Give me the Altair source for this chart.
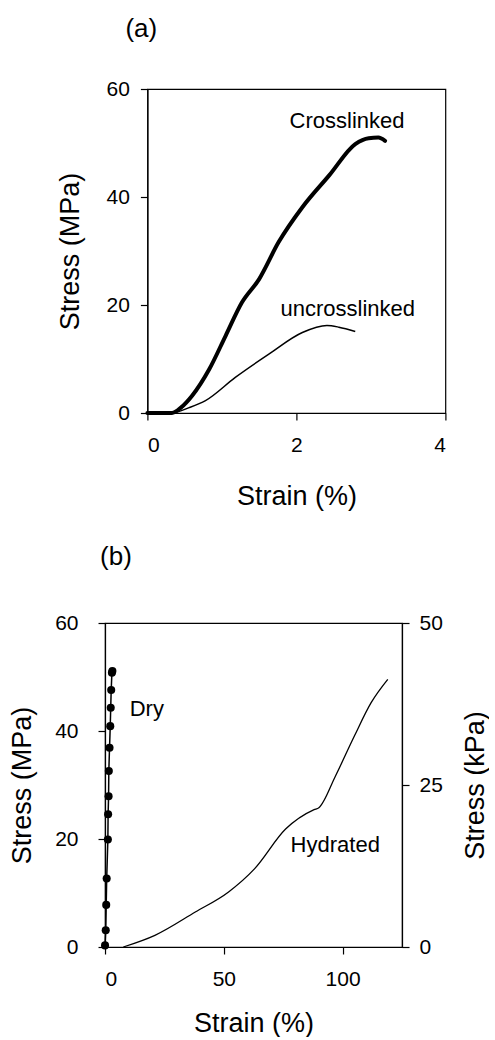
import altair as alt
import pandas as pd

# ---------------- data ----------------
# Panel (a)
cross_strain = [0, 0.33, 0.45, 0.6, 0.83, 1.05, 1.27, 1.5, 1.76, 2.08, 2.44, 2.79, 2.97, 3.1, 3.19]
cross_stress = [0, 0, 1.0, 3.2, 8.1, 14.3, 20.5, 24.8, 31.6, 38.1, 44.0, 49.8, 50.9, 51.0, 50.4]
uncross_strain = [0, 0.33, 0.56, 0.78, 1.18, 1.63, 2.08, 2.41, 2.57, 2.79]
uncross_stress = [0, 0, 1.0, 2.3, 6.6, 10.9, 14.9, 16.2, 15.9, 15.1]
a_labels = ["Crosslinked", "uncrosslinked"]
a_label_x = [2.68, 2.69]
a_label_y = [54.1, 19.3]

# Panel (b)
dry_strain = [0.0, 0.3, 0.5, 0.7, 1.2, 1.3, 1.5, 1.6, 1.9, 2.2, 2.4, 2.6, 2.9, 3.1]
dry_stress = [0.3, 3.1, 7.8, 12.7, 19.9, 24.6, 27.9, 32.6, 36.9, 40.9, 44.3, 47.6, 50.8, 51.1]
hyd_strain = [7.7, 21, 38, 52, 63, 76, 88, 90, 97, 105, 112, 119]
hyd_stress = [0, 1.8, 5.4, 8.5, 12.1, 18.2, 21.2, 21.5, 26.4, 32.6, 37.7, 41.3]  # kPa
b_labels = ["Dry", "Hydrated"]
b_label_x = [17.6, 96.9]
b_label_y = [44.0, 18.8]  # MPa axis

FONT = "Liberation Sans"


def ax(**kw):
    base = dict(grid=False, domainColor="black", tickColor="black", labelColor="black",
                titleColor="black", labelFont=FONT, titleFont=FONT, labelFontSize=21,
                titleFontSize=27, titleFontWeight="normal", tickSize=7, domainWidth=1.2,
                tickWidth=1.2, format="d")
    base.update(kw)
    return alt.Axis(**base)


# ---------------- panel (a) ----------------
dfc = pd.DataFrame({"strain": cross_strain, "stress": cross_stress})
dfu = pd.DataFrame({"strain": uncross_strain, "stress": uncross_stress})
dfa_t = pd.DataFrame({"label": a_labels, "strain": a_label_x, "stress": a_label_y})

xa = alt.X("strain:Q", scale=alt.Scale(domain=[0, 4], nice=False),
           axis=ax(values=[0, 2, 4], title="Strain (%)", labelPadding=14, titlePadding=28))
ya = alt.Y("stress:Q", scale=alt.Scale(domain=[0, 60], nice=False),
           axis=ax(values=[0, 20, 40, 60], title="Stress (MPa)", labelPadding=11, titlePadding=22))

a_cross = alt.Chart(dfc).mark_line(color="black", strokeWidth=4, strokeCap="round",
                                   interpolate="monotone").encode(x=xa, y=ya)
a_unc = alt.Chart(dfu).mark_line(color="black", strokeWidth=1.5,
                                 interpolate="monotone").encode(x=xa, y=ya)
a_txt = alt.Chart(dfa_t).mark_text(font=FONT, fontSize=22, color="black").encode(
    x="strain:Q", y="stress:Q", text="label:N")

panel_a = alt.layer(a_cross, a_unc, a_txt).properties(
    width=298, height=324,
    title=alt.TitleParams("(a)", anchor="start", frame="group", dx=-22, offset=36,
                          fontSize=26, font=FONT, fontWeight="normal", color="black"))

# ---------------- panel (b) ----------------
dfd = pd.DataFrame({"strain": dry_strain, "stress": dry_stress})
dfh = pd.DataFrame({"strain": hyd_strain, "kpa": hyd_stress})
dfb_t = pd.DataFrame({"label": b_labels, "strain": b_label_x, "stress": b_label_y})

xb = alt.X("strain:Q", scale=alt.Scale(domain=[0, 125], nice=False),
           axis=ax(values=[0, 50, 100], title="Strain (%)", labelPadding=14, titlePadding=21))
yb = alt.Y("stress:Q", scale=alt.Scale(domain=[0, 60], nice=False),
           axis=ax(values=[0, 20, 40, 60], title="Stress (MPa)", labelPadding=20, titlePadding=18,
                   orient="left"))
yr = alt.Y("kpa:Q", scale=alt.Scale(domain=[0, 50], nice=False),
           axis=ax(values=[0, 25, 50], title="Stress (kPa)", labelPadding=10, titlePadding=20,
                   orient="right", titleAngle=270, titleBaseline="top"))

b_dline = alt.Chart(dfd).mark_line(color="black", strokeWidth=1.5).encode(x=xb, y=yb)
b_dpts = alt.Chart(dfd).mark_point(filled=True, color="black", size=65, opacity=1).encode(x=xb, y=yb)
b_txt = alt.Chart(dfb_t).mark_text(font=FONT, fontSize=22, color="black").encode(
    x="strain:Q", y="stress:Q", text="label:N")
left = alt.layer(b_dline, b_dpts, b_txt)

b_hyd = alt.Chart(dfh).mark_line(color="black", strokeWidth=1.3,
                                 interpolate="monotone").encode(x=xb, y=yr)

panel_b = alt.layer(left, b_hyd).resolve_scale(y="independent").properties(
    width=297, height=324,
    title=alt.TitleParams("(b)", anchor="start", frame="group", dx=-5, offset=42,
                          fontSize=26, font=FONT, fontWeight="normal", color="black"))

chart = alt.vconcat(panel_a, panel_b, spacing=33, center=True).properties(
    padding={"left": 8, "top": 15, "right": 0, "bottom": 0},
    background="white",
).configure_view(stroke="black", strokeWidth=1.2)

chart.save("out.html", embed_options={"renderer": "svg", "actions": False})
